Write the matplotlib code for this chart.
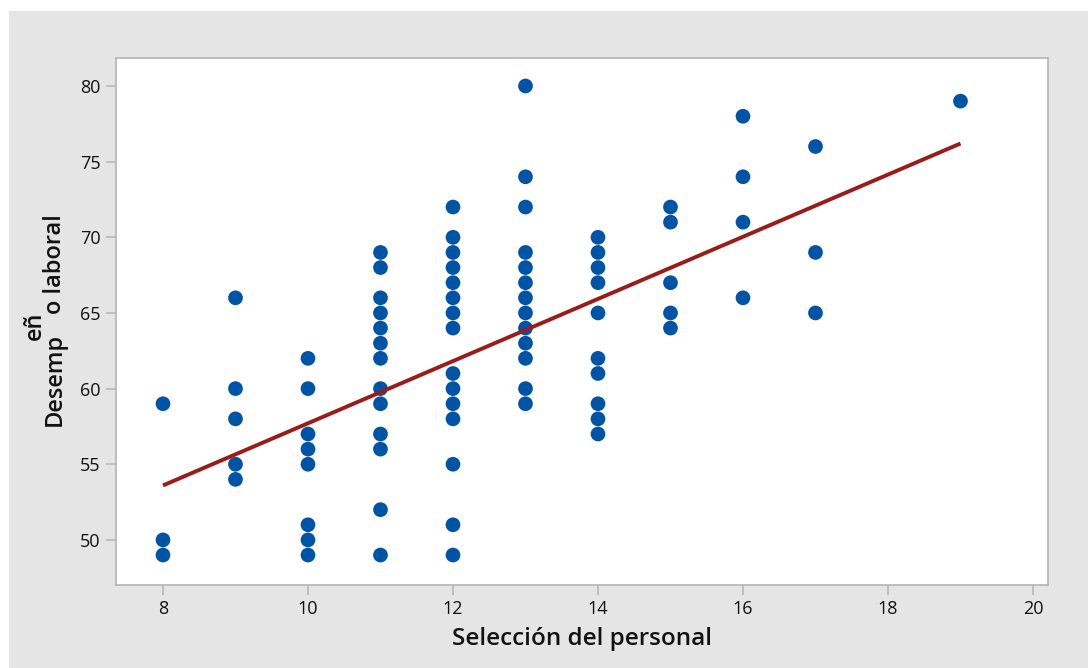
import matplotlib
matplotlib.use("Agg")
import matplotlib.pyplot as plt
from matplotlib.patches import Rectangle
import numpy as np

# ---- data ----
sel_8 = [59, 50, 49]
sel_9 = [66, 60, 58, 55, 54]
sel_10 = [62, 60, 57, 56, 55, 51, 50, 49]
sel_11 = [69, 68, 66, 65, 64, 63, 62, 60, 59, 57, 56, 52, 49]
sel_12 = [72, 70, 69, 68, 67, 66, 65, 64, 61, 60, 59, 58, 55, 51, 49]
sel_13 = [80, 74, 72, 69, 68, 67, 66, 65, 64, 63, 62, 60, 59]
sel_14 = [70, 69, 68, 67, 65, 62, 61, 59, 58, 57]
sel_15 = [72, 71, 67, 65, 64]
sel_16 = [78, 74, 71, 66]
sel_17 = [76, 69, 65]
sel_19 = [79]

groups = {8: sel_8, 9: sel_9, 10: sel_10, 11: sel_11, 12: sel_12, 13: sel_13,
          14: sel_14, 15: sel_15, 16: sel_16, 17: sel_17, 19: sel_19}

fit_x = [8, 19]
fit_y = [53.6, 76.2]

x_ticks = [8, 10, 12, 14, 16, 18, 20]
y_ticks = [50, 55, 60, 65, 70, 75, 80]

x_label = "Selección del personal"

# ---- figure ----
plt.rcParams['font.family'] = ['Open Sans', 'DejaVu Sans']
W, H = 1088, 668
fig = plt.figure(figsize=(W / 100, H / 100), dpi=100, facecolor='white')
fig.patches.append(Rectangle((9 / W, 0), 1, 1 - 11 / H, transform=fig.transFigure,
                             facecolor='#E5E5E5', edgecolor='none', zorder=-10))

ax = fig.add_axes([116 / W, 1 - 585 / H, (1048 - 116) / W, (585 - 58) / H])
ax.set_facecolor('white')

xs, ys = [], []
for k, vals in groups.items():
    xs += [k] * len(vals)
    ys += vals
ax.scatter(xs, ys, s=112, color='#0054A6', edgecolors='none', zorder=3)
ax.plot(fit_x, fit_y, color='#9B1B1B', lw=2.8, zorder=4, solid_capstyle='butt')

ax.set_xlim(7.352, 20.207)
ax.set_ylim(47.02, 81.85)
ax.set_xticks(x_ticks)
ax.set_yticks(y_ticks)
for s in ax.spines.values():
    s.set_color('#B4B4B4')
    s.set_linewidth(1.2)
ax.tick_params(axis='both', direction='out', length=7, width=1.1, color='#B4B4B4',
               labelsize=13, labelcolor='#111111', pad=4)

ax.set_xlabel(x_label, fontsize=17.5, fontweight='semibold', color='#111111', labelpad=6)

# y label as displayed in the reference (with displaced "eñ")
ykw = dict(rotation=90, fontsize=17, fontweight='semibold', color='#111111')
fig.text(55 / W, 1 - 426 / H, "Desemp", ha='center', va='bottom', **ykw)
fig.text(55 / W, 1 - 314 / H, "o laboral", ha='center', va='bottom', **ykw)
fig.text(35 / W, 1 - 340 / H, "eñ", ha='center', va='bottom', **ykw)

fig.savefig("out.png", dpi=100, facecolor=fig.get_facecolor())
